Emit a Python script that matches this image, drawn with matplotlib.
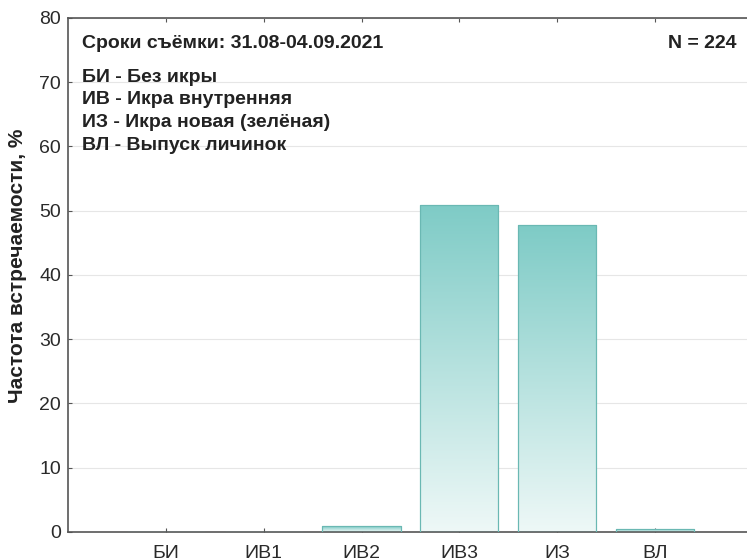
import numpy as np
import matplotlib.pyplot as plt
from matplotlib.colors import LinearSegmentedColormap

plt.rcParams['font.family'] = ['Liberation Sans', 'DejaVu Sans']

# Категории и частоты встречаемости (%), N = 224
categories = ["БИ", "ИВ1", "ИВ2", "ИВ3", "ИЗ", "ВЛ"]
counts = [0, 0, 2, 114, 107, 1]
total = 224
freq = [100 * c / total for c in counts]

legend_lines = [
    "БИ - Без икры",
    "ИВ - Икра внутренняя",
    "ИЗ - Икра новая (зелёная)",
    "ВЛ - Выпуск личинок",
]

fig = plt.figure(figsize=(7.47, 5.6), dpi=100)
ax = fig.add_axes([0.091, 0.05, 0.909, 0.918])

x = np.arange(len(categories))
width = 0.8
ax.set_xlim(-1, 5.94)
ax.set_ylim(0, 80)

# градиент от бирюзового сверху к почти белому снизу
cmap = LinearSegmentedColormap.from_list("teal", ["#eef8f7", "#7ecbc6"])
grad = np.linspace(0, 1, 256).reshape(-1, 1)

bars = ax.bar(x, freq, width=width, color="none", edgecolor="#6ab8b3",
              linewidth=0.8, zorder=3)
for b, h in zip(bars, freq):
    if h <= 0:
        continue
    x0 = b.get_x()
    im = ax.imshow(grad, cmap=cmap, aspect="auto", origin="lower",
                   extent=[x0, x0 + width, 0, h], zorder=2)
    im.set_clip_path(b)
    ax.add_patch(plt.Rectangle((x0, 0), width, h, fill=False,
                               edgecolor="#6ab8b3", linewidth=0.8, zorder=3))

ax.set_xticks(x)
ax.set_xticklabels(categories)
ax.set_yticks(range(0, 81, 10))
ax.yaxis.grid(True, color="#e6e6e6", linewidth=0.8, zorder=0)
ax.set_axisbelow(True)

ax.tick_params(axis="both", labelsize=14, colors="#2a2a2a",
               direction="in", length=3, color="#555555")
ax.tick_params(axis="x", top=True, pad=9)
ax.tick_params(axis="y", pad=5)
ax.spines["right"].set_visible(False)
for s in ["left", "bottom", "top"]:
    ax.spines[s].set_color("#555555")
    ax.spines[s].set_linewidth(1.2)

ax.set_ylabel("Частота встречаемости, %", fontsize=15, fontweight="bold",
              color="#222222")
ax.yaxis.set_label_coords(-0.060, 0.518)

ax.text(0.02, 0.951, "Сроки съёмки: 31.08-04.09.2021", transform=ax.transAxes,
        fontsize=14, fontweight="bold", color="#222222", va="center")
ax.text(0.985, 0.951, f"N = {total}", transform=ax.transAxes,
        fontsize=14, fontweight="bold", color="#222222", va="center", ha="right")
for i, line in enumerate(legend_lines):
    ax.text(0.02, 0.885 - i * 0.0442, line, transform=ax.transAxes,
            fontsize=14, fontweight="bold", color="#222222", va="center")

fig.savefig("out.png", dpi=100)
